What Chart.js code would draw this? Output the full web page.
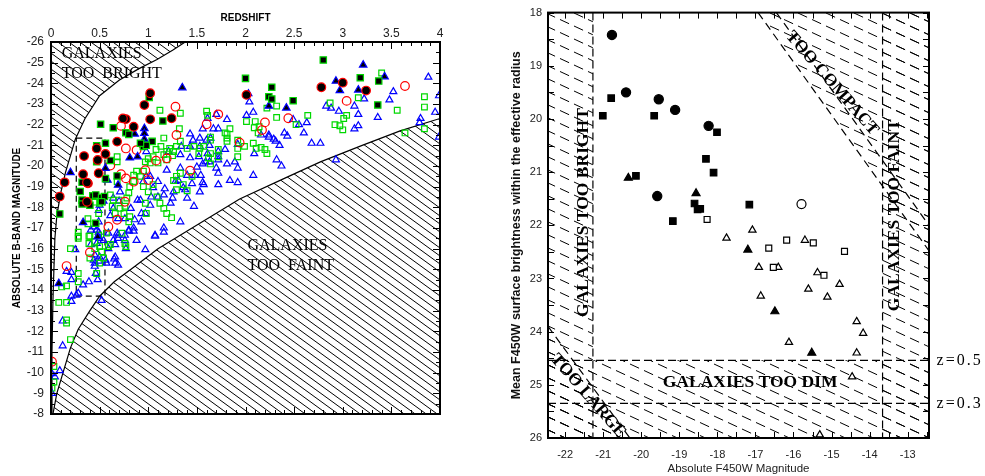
<!DOCTYPE html>
<html>
<head>
<meta charset="utf-8">
<script src="https://cdn.jsdelivr.net/npm/chart.js@4.4.0/dist/chart.umd.min.js"></script>
<style>
    body { margin: 0; background: #fff; width: 985px; height: 476px; overflow: hidden; position: relative; }
    #left-box { position: absolute; left: 0; top: 0; width: 450px; height: 476px; }
    #right-box { position: absolute; left: 490px; top: 0; width: 495px; height: 476px; }
</style>
</head>
<body>
<div id="left-box"><canvas id="redshift-chart"></canvas></div>
<div id="right-box"><canvas id="surface-chart"></canvas></div>
<script>
// ---------- 左图：红移 - 绝对星等 ----------
// 亮度极限曲线 (z, M)
const brightEdge = [[0.001,-8],[0.01,-11],[0.02,-13.5],[0.04,-16.5],[0.06,-17.6],[0.1,-18.7],[0.15,-19.7],[0.25,-21.3],[0.35,-22.3],[0.5,-23.4],[0.7,-24.15],[0.9,-24.7],[1.09,-25.15],[1.25,-25.6],[1.38,-26]];
// 暗弱极限曲线
const faintEdge = [[0.02,-8],[0.06,-9],[0.13,-10.1],[0.2,-11.2],[0.28,-12.1],[0.4,-13.0],[0.5,-13.7],[0.65,-14.4],[0.85,-15.1],[1.1,-16.0],[1.4,-16.85],[1.94,-18.4],[2.4,-19.4],[2.77,-20.2],[3.2,-21.0],[3.59,-21.7],[4,-22.3]];
// 虚线框
const boxEdge = [[0.26,-21.35],[0.555,-21.35],[0.555,-13.7],[0.26,-13.7],[0.26,-21.35]];

const zFilledCircles = [[1.02,-23.52],[0.96,-22.95],[1.02,-22.26],[0.77,-22.27],[0.85,-21.9],[1.24,-22.31],[0.68,-21.18],[0.34,-20.48],[0.47,-20.85],[0.48,-20.29],[0.56,-20.58],[0.49,-19.65],[0.33,-19.6],[0.38,-19.16],[0.14,-19.21],[0.09,-18.52],[0.37,-18.27],[2.78,-23.81],[2.01,-23.44],[3.0,-24.03],[3.24,-23.65],[0.74,-22.3],[0.37,-19.2]];
const zOpenCircles = [[1.28,-22.87],[0.72,-21.94],[0.77,-20.85],[0.88,-20.77],[1.29,-21.5],[1.72,-22.5],[1.6,-22.02],[2.2,-22.11],[2.44,-22.31],[2.17,-21.74],[3.04,-23.15],[3.64,-23.87],[1.08,-20.26],[1.19,-20.37],[0.97,-19.8],[0.61,-20.02],[0.72,-19.6],[0.77,-19.4],[0.85,-19.24],[1.0,-19.32],[1.43,-19.77],[0.76,-18.27],[0.68,-17.4],[0.59,-17.06],[1.94,-21.13],[0.4,-15.82],[0.16,-15.16],[0.01,-10.53]];
const zFilledSquares = [[0.51,-22.02],[0.64,-21.85],[1.01,-23.32],[1.15,-22.18],[0.77,-21.61],[0.8,-21.53],[0.95,-20.94],[1.04,-21.19],[0.47,-20.98],[0.56,-21.1],[0.47,-20.21],[0.61,-20.27],[0.68,-19.52],[0.56,-19.39],[0.32,-19.21],[0.3,-18.77],[0.32,-18.35],[0.32,-18.16],[0.4,-18.1],[0.43,-18.56],[0.46,-18.6],[0.52,-18.47],[0.55,-18.52],[0.52,-18.27],[0.09,-17.68],[0.46,-17.23],[2.0,-24.24],[2.27,-23.81],[2.24,-23.35],[2.27,-23.24],[2.49,-23.16],[2.8,-25.13],[3.18,-24.27],[3.37,-24.11],[3.36,-22.95],[0.98,-21.0],[0.92,-21.1]];
const zFilledTriangles = [[1.35,-23.79],[0.96,-21.82],[0.96,-21.58],[0.96,-21.3],[0.96,-21.05],[0.86,-21.55],[0.81,-20.4],[0.89,-20.45],[0.2,-19.69],[0.56,-19.89],[0.58,-19.32],[0.33,-17.27],[0.69,-19.08],[3.21,-24.89],[2.93,-24.11],[2.97,-23.65],[3.16,-23.68],[3.43,-24.32],[2.42,-22.81],[2.24,-22.9],[0.08,-14.32],[0.48,-16.58]];
const zOpenTriangles = [[3.88,-24.3],[3.99,-23.4],[3.95,-22.6],[3.99,-21.4],[3.8,-22.3],[3.79,-22.1],[3.52,-23.6],[3.48,-23.2],[3.36,-22.35],[3.22,-23.25],[3.16,-22.5],[3.16,-21.95],[3.12,-21.8],[3.12,-22.9],[2.93,-20.3],[2.96,-22.65],[2.83,-22.9],[2.88,-22.8],[2.77,-21.1],[2.68,-21.1],[2.6,-21.6],[2.55,-22.0],[2.63,-22.1],[2.49,-22.25],[2.43,-21.45],[2.37,-20.0],[2.32,-20.3],[2.4,-21.6],[2.31,-21.2],[2.35,-21.0],[2.24,-21.5],[2.24,-21.4],[2.29,-21.3],[2.16,-21.5],[2.09,-20.6],[2.08,-19.55],[2.08,-22.6],[2.03,-23.5],[2.04,-23.1],[2.01,-22.45],[1.92,-21.05],[1.92,-19.9],[1.92,-19.2],[1.89,-20.2],[1.84,-19.3],[1.81,-20.1],[1.79,-20.8],[1.81,-22.25],[1.72,-21.8],[1.72,-20.7],[1.72,-20.45],[1.72,-20.3],[1.72,-19.65],[1.72,-19.1],[1.7,-22.5],[1.67,-21.8],[1.64,-21.35],[1.63,-21.0],[1.61,-22.3],[1.6,-21.25],[1.61,-20.6],[1.59,-20.2],[1.56,-21.8],[1.56,-20.1],[1.56,-19.2],[1.54,-19.55],[1.53,-21.35],[1.53,-20.95],[1.52,-20.45],[1.5,-19.95],[1.48,-19.55],[1.46,-21.25],[1.45,-19.15],[1.43,-21.55],[1.43,-20.95],[1.43,-20.4],[1.4,-19.55],[1.38,-18.85],[1.36,-18.95],[1.34,-20.95],[1.33,-19.9],[1.33,-20.55],[1.31,-19.3],[1.28,-19.25],[1.26,-18.75],[1.25,-18.45],[1.23,-18.2],[1.21,-20.7],[1.19,-19.8],[1.17,-18.9],[1.16,-18.6],[1.1,-18.5],[1.1,-19.25],[1.05,-18.95],[1.03,-18.5],[1.02,-18.1],[0.98,-20.7],[0.98,-19.5],[0.97,-17.7],[0.92,-18.35],[0.93,-17.7],[0.93,-17.3],[0.89,-18.35],[0.86,-17.4],[0.85,-17.0],[0.82,-17.95],[0.8,-16.9],[0.76,-17.45],[0.76,-16.65],[0.71,-18.75],[0.7,-18.3],[0.69,-17.45],[0.68,-16.75],[0.64,-18.45],[0.64,-17.95],[0.61,-17.6],[0.59,-16.75],[0.54,-18.3],[0.5,-18.1],[0.49,-17.85],[0.49,-17.3],[0.47,-16.9],[0.44,-17.05],[0.41,-16.9],[1.33,-17.3],[1.16,-17.0],[1.07,-16.65],[1.47,-18.05],[0.95,-19.25],[1.02,-19.5],[1.4,-18.45],[1.53,-18.75],[1.57,-19.1],[1.63,-20.2],[1.7,-19.9],[0.49,-16.8],[0.5,-16.5],[0.54,-16.4],[0.59,-16.0],[0.64,-16.4],[0.66,-16.2],[0.69,-16.5],[0.69,-16.65],[0.66,-15.6],[0.66,-15.3],[0.76,-16.4],[0.77,-16.0],[0.8,-16.85],[0.85,-16.85],[0.88,-16.4],[0.97,-15.95],[1.07,-16.6],[1.16,-16.8],[0.45,-15.7],[0.5,-15.6],[0.5,-15.4],[0.45,-15.15],[0.44,-15.45],[0.46,-14.8],[0.48,-14.5],[0.45,-15.3],[0.65,-15.5],[0.69,-15.2],[0.56,-15.45],[0.57,-15.3],[0.39,-14.4],[0.33,-14.25],[0.28,-13.85],[0.26,-13.75],[0.21,-13.7],[0.21,-13.45],[0.21,-14.5],[0.21,-14.85],[0.16,-14.9],[0.52,-13.5],[0.12,-12.5],[0.12,-11.3],[0.01,-9.95],[0.01,-9.0],[0.09,-10.1],[0.04,-9.8],[0.25,-15.95],[0.41,-16.2],[0.47,-16.25]];
const zOpenSquares = [[3.4,-24.5],[3.84,-23.35],[3.84,-22.85],[3.56,-22.7],[3.64,-21.6],[3.84,-21.8],[3.04,-22.45],[3.0,-21.75],[2.92,-22.0],[2.97,-21.95],[2.87,-23.05],[3.16,-23.3],[3.01,-22.3],[2.64,-22.45],[2.52,-22.0],[2.32,-22.9],[2.32,-22.35],[2.22,-22.8],[2.14,-21.9],[2.13,-21.6],[2.1,-22.15],[2.09,-21.85],[2.2,-20.8],[2.22,-20.6],[2.16,-20.9],[2.11,-20.85],[2.08,-21.1],[1.99,-20.95],[2.01,-22.15],[1.92,-21.25],[1.92,-20.85],[1.92,-20.45],[1.84,-21.8],[1.81,-21.55],[1.81,-21.35],[1.81,-21.2],[1.79,-21.6],[1.72,-20.8],[1.72,-20.45],[1.6,-22.65],[1.61,-22.45],[1.64,-21.4],[1.64,-21.25],[1.64,-20.6],[1.64,-20.1],[1.62,-20.4],[1.57,-20.95],[1.53,-20.85],[1.52,-20.6],[1.47,-20.95],[1.4,-20.85],[1.12,-22.7],[1.33,-22.55],[1.32,-21.8],[1.29,-20.95],[1.33,-21.2],[1.26,-20.7],[1.25,-20.5],[1.22,-20.85],[1.19,-20.7],[1.19,-20.3],[1.16,-21.35],[1.16,-20.55],[1.13,-20.95],[1.1,-20.15],[1.08,-20.8],[1.05,-20.45],[1.02,-20.15],[1.0,-20.35],[0.97,-20.2],[0.95,-19.75],[0.92,-19.5],[0.88,-19.75],[0.85,-19.55],[0.85,-19.25],[0.81,-19.0],[0.8,-18.7],[0.78,-18.45],[0.76,-18.05],[0.75,-17.7],[0.71,-17.95],[0.68,-19.25],[0.68,-20.45],[0.68,-20.2],[0.64,-18.35],[0.63,-18.05],[0.61,-18.6],[0.66,-17.7],[0.95,-19.0],[1.0,-18.75],[1.05,-19.1],[1.09,-18.5],[1.12,-18.2],[1.16,-17.95],[1.19,-17.7],[1.24,-17.5],[1.33,-19.65],[1.29,-19.5],[1.26,-19.3],[1.36,-19.1],[1.4,-18.8],[1.45,-19.5],[1.29,-18.85],[0.97,-18.2],[0.98,-17.7],[0.81,-17.55],[0.8,-17.3],[0.7,-18.35],[0.5,-18.2],[0.49,-17.7],[0.45,-18.25],[0.38,-17.45],[0.38,-17.2],[0.4,-16.6],[0.28,-16.8],[0.28,-16.6],[0.28,-16.5],[0.28,-14.8],[0.28,-14.4],[0.2,-16.0],[0.16,-14.2],[0.11,-14.15],[0.08,-13.4],[0.16,-13.4],[0.16,-12.55],[0.16,-12.4],[0.2,-11.6],[0.03,-10.3],[0.03,-9.55],[0.01,-9.25],[0.39,-16.6],[0.39,-16.25],[0.49,-16.65],[0.45,-16.35],[0.5,-16.1],[0.52,-15.85],[0.54,-15.55],[0.59,-16.1],[0.61,-16.2],[0.4,-15.55],[0.45,-16.0],[0.73,-16.75],[0.76,-16.25],[0.77,-16.1],[0.57,-16.75],[0.47,-14.8],[0.5,-15.3]];

// ---------- 右图：星等 - 表面亮度 ----------
const magFilledCircles = [[-20.77,18.42],[-20.40,19.50],[-19.54,19.63],[-19.11,19.83],[-18.23,20.13],[-19.58,21.45]];
const magFilledSquares = [[-20.79,19.61],[-21.01,19.94],[-19.66,19.94],[-18.01,20.25],[-18.30,20.75],[-18.10,21.01],[-20.14,21.07],[-18.60,21.59],[-18.52,21.70],[-18.45,21.69],[-17.16,21.61],[-19.17,21.92]];
const magFilledTriangles = [[-20.34,21.11],[-18.56,21.40],[-17.20,22.46],[-16.49,23.62],[-15.52,24.40]];
const magOpenCircles = [[-15.79,21.60]];
const magOpenSquares = [[-18.27,21.89],[-16.65,22.43],[-16.18,22.28],[-15.48,22.33],[-14.66,22.49],[-16.53,22.79],[-15.20,22.94]];
const magOpenTriangles = [[-17.08,22.09],[-17.76,22.24],[-15.70,22.28],[-16.91,22.79],[-16.40,22.79],[-15.37,22.89],[-15.61,23.20],[-14.79,23.11],[-16.86,23.33],[-15.11,23.35],[-14.34,23.81],[-14.17,24.03],[-16.12,24.20],[-14.34,24.40],[-14.46,24.85],[-15.31,25.94]];

// 选择极限
const magRange = [-22.45, -12.44];
const sbRange = [18, 26];
const brightLimit = -21.27;
const faintLimit = -13.66;
const dimLimitZ05 = 24.54;
const dimLimitZ03 = 25.35;
const compactEdge = [[-16.93,18],[-12.44,22.48]];
const compactEdge2 = [[-16.45,18],[-12.44,22.0]];
const largeEdge = [[-22.45,23.9],[-20.3,26]];

const toXY = arr => arr.map(p => ({x: p[0], y: p[1]}));

// 生成斜线填充图案
function makeHatch(w, h, dash, lw) {
    const c = document.createElement('canvas');
    c.width = w; c.height = h;
    const g = c.getContext('2d');
    g.strokeStyle = '#000';
    g.lineWidth = lw;
    if (dash) g.setLineDash(dash);
    [-h, 0, h].forEach(dy => {
        g.beginPath();
        g.moveTo(0, dy);
        g.lineTo(w, dy + h);
        g.stroke();
    });
    return g.createPattern(c, 'repeat');
}
const solidHatch = makeHatch(11, 8, null, 1);
const dashHatch = makeHatch(28, 13, [10, 5.435], 1);

// 边框和内向刻度
const frameTicks = {
    id: 'frameTicks',
    afterDraw(chart, args, opts) {
        const {ctx, chartArea: a, scales} = chart;
        ctx.save();
        ctx.strokeStyle = '#000';
        ctx.lineWidth = 1;
        scales.x.ticks.forEach(t => {
            const px = Math.round(scales.x.getPixelForValue(t.value)) + 0.5;
            const len = opts.isMajorX(t.value) ? opts.major : opts.minor;
            ctx.beginPath();
            ctx.moveTo(px, a.top); ctx.lineTo(px, a.top + len);
            ctx.moveTo(px, a.bottom); ctx.lineTo(px, a.bottom - len);
            ctx.stroke();
        });
        scales.y.ticks.forEach(t => {
            const py = Math.round(scales.y.getPixelForValue(t.value)) + 0.5;
            const len = opts.isMajorY(t.value) ? opts.major : opts.minor;
            ctx.beginPath();
            ctx.moveTo(a.left, py); ctx.lineTo(a.left + len, py);
            ctx.moveTo(a.right, py); ctx.lineTo(a.right - len, py);
            ctx.stroke();
        });
        ctx.lineWidth = 2;
        ctx.strokeRect(a.left, a.top, a.right - a.left, a.bottom - a.top);
        ctx.restore();
    }
};

// 图中文字
const notes = {
    id: 'notes',
    afterDatasetsDraw(chart, args, opts) {
        const {ctx, scales} = chart;
        ctx.save();
        ctx.fillStyle = '#000';
        opts.items.forEach(n => {
            const px = scales.x.getPixelForValue(n.x);
            const py = scales.y.getPixelForValue(n.y);
            ctx.save();
            ctx.translate(px, py);
            ctx.rotate((n.rot || 0) * Math.PI / 180);
            ctx.font = n.font;
            if (n.spacing) ctx.letterSpacing = n.spacing;
            ctx.textAlign = n.align || 'center';
            ctx.textBaseline = n.baseline || 'middle';
            ctx.fillText(n.text, 0, 0);
            ctx.restore();
        });
        ctx.restore();
    }
};

const isMult = (v, s) => Math.abs(v / s - Math.round(v / s)) < 1e-6;

function pointSet(data, style, radius, fill, border, order) {
    return {
        data: toXY(data),
        pointStyle: style,
        pointRadius: radius,
        pointBackgroundColor: fill,
        pointBorderColor: border,
        pointBorderWidth: 1.2,
        order: order
    };
}

function regionSet(data, fillValue, pattern, border, dash, order) {
    return {
        type: 'line',
        data: toXY(data),
        fill: fillValue === null ? false : {value: fillValue},
        backgroundColor: pattern || 'rgba(0,0,0,0)',
        borderColor: border || 'rgba(0,0,0,0)',
        borderWidth: 1.2,
        borderDash: dash || [],
        pointRadius: 0,
        tension: 0,
        order: order
    };
}

function initRedshiftChart() {
    const ctx = document.getElementById('redshift-chart');
    new Chart(ctx, {
        type: 'scatter',
        data: {
            datasets: [
                regionSet(brightEdge, -26, solidHatch, '#000', null, 20),
                regionSet(faintEdge, -8, solidHatch, '#000', null, 20),
                regionSet(boxEdge, null, null, '#000', [6, 4], 15),
                pointSet(zOpenTriangles, 'triangle', 4, 'rgba(0,0,0,0)', '#0000ff', 9),
                pointSet(zOpenSquares, 'rect', 4, 'rgba(0,0,0,0)', '#00d800', 8),
                pointSet(zOpenCircles, 'circle', 4.3, 'rgba(0,0,0,0)', '#ff0000', 7),
                pointSet(zFilledTriangles, 'triangle', 4.3, '#000', '#0000ff', 4),
                pointSet(zFilledSquares, 'rect', 4.5, '#000', '#00d800', 3),
                pointSet(zFilledCircles, 'circle', 4.3, '#000', '#ff0000', 2)
            ]
        },
        options: {
            responsive: true,
            maintainAspectRatio: false,
            animation: false,
            layout: {padding: {top: 0, left: 0, right: 10, bottom: 62}},
            plugins: {
                legend: {display: false},
                tooltip: {enabled: false},
                frameTicks: {major: 7, minor: 4, isMajorX: v => isMult(v, 0.5), isMajorY: v => isMult(v, 1)},
                notes: {items: [
                    {text: 'GALAXIES', x: 0.11, y: -25.23, font: '16px "Liberation Serif"', align: 'left', baseline: 'alphabetic'},
                    {text: 'TOO  BRIGHT', x: 0.11, y: -24.26, font: '16px "Liberation Serif"', align: 'left', baseline: 'alphabetic'},
                    {text: 'GALAXIES', x: 2.02, y: -15.94, font: '16px "Liberation Serif"', align: 'left', baseline: 'alphabetic'},
                    {text: 'TOO  FAINT', x: 2.02, y: -14.97, font: '16px "Liberation Serif"', align: 'left', baseline: 'alphabetic'}
                ]}
            },
            scales: {
                x: {
                    type: 'linear', position: 'top', min: 0, max: 4,
                    grid: {display: false, drawTicks: false},
                    border: {display: false},
                    ticks: {
                        stepSize: 0.1, maxTicksLimit: 100, autoSkip: false, maxRotation: 0, padding: 1,
                        color: '#222', font: {family: 'Liberation Sans', size: 12},
                        callback: v => isMult(v, 0.5) ? String(Math.round(v * 10) / 10) : ''
                    },
                    title: {display: true, text: 'REDSHIFT', color: '#000', padding: {top: 12, bottom: 0},
                        font: {family: 'Liberation Sans', size: 10, weight: 'bold'}},
                    afterFit(s) { s.height = 42; }
                },
                y: {
                    type: 'linear', min: -26, max: -8, reverse: true,
                    grid: {display: false, drawTicks: false},
                    border: {display: false},
                    ticks: {
                        stepSize: 0.5, maxTicksLimit: 100, autoSkip: false, padding: 7,
                        color: '#222', font: {family: 'Liberation Sans', size: 12},
                        callback: v => isMult(v, 1) ? String(Math.round(v)) : ''
                    },
                    title: {display: true, text: 'ABSOLUTE B-BAND MAGNITUDE', color: '#000', padding: {top: 11, bottom: 0},
                        font: {family: 'Liberation Sans', size: 10, weight: 'bold'}},
                    afterFit(s) { s.width = 51; }
                }
            }
        },
        plugins: [frameTicks, notes]
    });
}

function initSurfaceChart() {
    const ctx = document.getElementById('surface-chart');
    const serifBold = 'bold 17.5px "Liberation Serif"';
    new Chart(ctx, {
        type: 'scatter',
        data: {
            datasets: [
                regionSet([[magRange[0], sbRange[0]], [brightLimit, sbRange[0]]], sbRange[1], dashHatch, null, null, 20),
                regionSet([[faintLimit, sbRange[0]], [magRange[1], sbRange[0]]], sbRange[1], dashHatch, null, null, 20),
                regionSet([[magRange[0], dimLimitZ05], [magRange[1], dimLimitZ05]], sbRange[1], dashHatch, '#000', [8, 4], 20),
                regionSet(compactEdge, sbRange[0], dashHatch, '#000', [8, 5], 20),
                regionSet(compactEdge2, null, null, '#000', [8, 5], 19),
                regionSet(largeEdge, sbRange[1], dashHatch, '#000', [8, 5], 20),
                regionSet([[magRange[0], dimLimitZ03], [magRange[1], dimLimitZ03]], null, null, '#000', [8, 4], 19),
                regionSet([[brightLimit, sbRange[0]], [brightLimit, sbRange[1]]], null, null, '#000', [8, 4], 19),
                regionSet([[faintLimit, sbRange[0]], [faintLimit, sbRange[1]]], null, null, '#000', [8, 4], 19),
                pointSet(magOpenTriangles, 'triangle', 4.2, '#fff', '#000', 6),
                pointSet(magOpenSquares, 'rect', 4.2, '#fff', '#000', 5),
                pointSet(magOpenCircles, 'circle', 4.5, '#fff', '#000', 4),
                pointSet(magFilledTriangles, 'triangle', 4.6, '#000', '#000', 3),
                pointSet(magFilledSquares, 'rect', 4.6, '#000', '#000', 2),
                pointSet(magFilledCircles, 'circle', 4.6, '#000', '#000', 1)
            ]
        },
        options: {
            responsive: true,
            maintainAspectRatio: false,
            animation: false,
            layout: {padding: {top: 12, left: 0, right: 56, bottom: 0}},
            plugins: {
                legend: {display: false},
                tooltip: {enabled: false},
                frameTicks: {major: 6, minor: 6, isMajorX: () => true, isMajorY: () => true},
                notes: {items: [
                    {text: 'GALAXIES TOO BRIGHT', x: -21.53, y: 21.76, rot: -90, font: serifBold},
                    {text: 'GALAXIES TOO FAINT', x: -13.34, y: 21.81, rot: -90, font: serifBold},
                    {text: 'TOO COMPACT', x: -14.99, y: 19.33, rot: 49, font: serifBold},
                    {text: 'GALAXIES TOO DIM', x: -17.14, y: 24.95, font: serifBold},
                    {text: 'TOO LARGE', x: -21.4, y: 25.21, rot: 49, font: serifBold},
                    {text: 'z=0.5', x: -12.24, y: dimLimitZ05, align: 'left', font: '16px "Liberation Serif"', spacing: '2px'},
                    {text: 'z=0.3', x: -12.24, y: dimLimitZ03, align: 'left', font: '16px "Liberation Serif"', spacing: '2px'}
                ]}
            },
            scales: {
                x: {
                    type: 'linear', position: 'bottom', min: magRange[0], max: magRange[1],
                    grid: {display: false, drawTicks: false},
                    border: {display: false},
                    ticks: {
                        stepSize: 0.5, maxTicksLimit: 100, autoSkip: false, includeBounds: false, maxRotation: 0, padding: 10,
                        color: '#222', font: {family: 'Liberation Sans', size: 11},
                        callback: v => isMult(v, 1) ? String(Math.round(v)) : ''
                    },
                    title: {display: true, text: 'Absolute F450W Magnitude', color: '#222', padding: {top: 3, bottom: 0},
                        font: {family: 'Liberation Sans', size: 11.5}},
                    afterFit(s) { s.height = 38; }
                },
                y: {
                    type: 'linear', min: sbRange[0], max: sbRange[1], reverse: true,
                    grid: {display: false, drawTicks: false},
                    border: {display: false},
                    ticks: {
                        stepSize: 0.5, maxTicksLimit: 100, autoSkip: false, padding: 6,
                        color: '#222', font: {family: 'Liberation Sans', size: 11},
                        callback: v => isMult(v, 1) ? String(Math.round(v)) : ''
                    },
                    title: {display: true, text: 'Mean F450W surface brightness within the effective radius', color: '#111',
                        padding: {top: 19, bottom: 0}, font: {family: 'Liberation Sans', size: 12.5, weight: 'bold'}},
                    afterFit(s) { s.width = 58; }
                }
            }
        },
        plugins: [frameTicks, notes]
    });
}

initRedshiftChart();
initSurfaceChart();
</script>
</body>
</html>
